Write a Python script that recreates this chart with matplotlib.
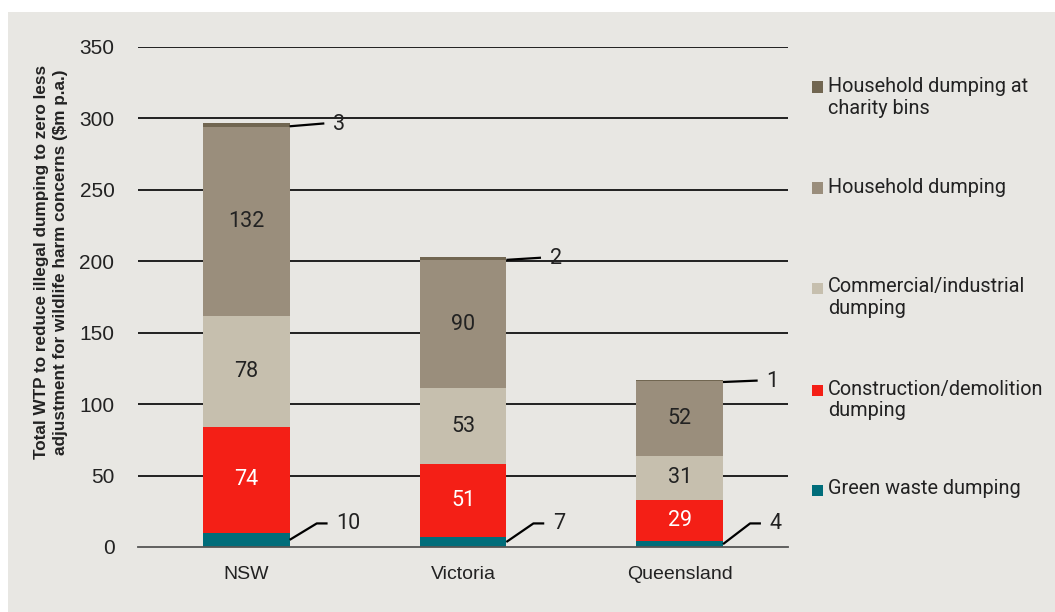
import matplotlib
matplotlib.use("Agg")
import matplotlib.pyplot as plt
from matplotlib.patches import Rectangle
import numpy as np

# Data: WTP by dumping type and state ($m p.a.)
states = ["NSW", "Victoria", "Queensland"]
series_names = [
    "Green waste dumping",
    "Construction/demolition\ndumping",
    "Commercial/industrial\ndumping",
    "Household dumping",
    "Household dumping at\ncharity bins",
]
green_waste = [10, 7, 4]
construction = [74, 51, 29]
commercial = [78, 53, 31]
household = [132, 90, 52]
charity_bins = [3, 2, 1]
y_ticks = [0, 50, 100, 150, 200, 250, 300, 350]

colors = ["#006D7A", "#F41F16", "#C6BFAE", "#9A8E7C", "#716651"]
label_colors = ["#222222", "#FFFFFF", "#222222", "#222222", "#222222"]
panel_bg = "#E8E7E3"

W, H = 1055, 612
fig = plt.figure(figsize=(W / 100, H / 100), dpi=100, facecolor="white")
fig.patches.append(Rectangle((8 / W, 0), 1 - 8 / W, 1 - 12 / H,
                             transform=fig.transFigure, facecolor=panel_bg,
                             edgecolor="none", zorder=-10))

ax = fig.add_axes([138 / W, 1 - 547 / H, 650 / W, 500 / H])
ax.set_facecolor("none")

tick_font = "Liberation Sans"
label_font = "Roboto"

x = np.arange(len(states))
bw = 0.4
series = [green_waste, construction, commercial, household, charity_bins]
bottom = np.zeros(len(states))
for vals, col in zip(series, colors):
    vals = np.array(vals, dtype=float)
    ax.bar(x, vals, bw, bottom=bottom, color=col, zorder=3, linewidth=0)
    bottom = bottom + vals
totals = bottom

# In-bar labels for the three middle segments
bottom = np.zeros(len(states))
for k, (vals, lc) in enumerate(zip(series, label_colors)):
    vals = np.array(vals, dtype=float)
    if k in (1, 2, 3):
        for i, v in enumerate(vals):
            ax.text(x[i], bottom[i] + v / 2, f"{v:.0f}", ha="center", va="center",
                    color=lc, fontsize=15.5, family=label_font, zorder=5)
    bottom = bottom + vals

# Leader-line labels for the thin bottom and top segments
for i in range(len(states)):
    xr = x[i] + bw / 2
    g = green_waste[i]
    ax.plot([xr, xr + 0.125, xr + 0.175], [g / 2, 16.5, 16.5], color="black",
            lw=1.6, zorder=4, solid_capstyle="butt", clip_on=False)
    ax.text(xr + 0.215, 16.5, f"{g}", ha="left", va="center", fontsize=15.5,
            family=label_font, color="#222222")
    c = charity_bins[i]
    t = totals[i]
    ax.plot([xr, xr + 0.16], [t - c / 2 - 1, t - 0.5], color="black", lw=1.6,
            zorder=4, solid_capstyle="butt", clip_on=False)
    ax.text(xr + 0.2, t - 1, f"{c}", ha="left", va="center", fontsize=15.5,
            family=label_font, color="#222222")

ax.set_xlim(-0.5, 2.5)
ax.set_ylim(0, 350)
ax.set_yticks(y_ticks)
ax.set_yticklabels([str(v) for v in y_ticks], family=tick_font, fontsize=15,
                   color="#222222")
ax.set_xticks(x)
ax.set_xticklabels(states, family=tick_font, fontsize=14, color="#222222")
ax.tick_params(axis="y", length=0, pad=17)
ax.tick_params(axis="x", length=0, pad=14)
for v in y_ticks[1:]:
    ax.axhline(v, color="#111111", lw=1.3, zorder=1)
for s in ["top", "right", "left"]:
    ax.spines[s].set_visible(False)
ax.spines["bottom"].set_color("#555555")
ax.spines["bottom"].set_linewidth(1.3)
ax.spines["bottom"].set_zorder(6)

fig.text(51 / W, 1 - 262 / H,
         "Total WTP to reduce illegal dumping to zero less\n"
         "adjustment for wildlife harm concerns ($m p.a.)",
         rotation=90, ha="center", va="center", fontsize=12.3,
         fontweight="bold", family=tick_font, color="#222222",
         linespacing=1.3)

# Legend, top entry first
legend_rows = [87, 188, 288, 390, 490]
for name, col, yc in zip(series_names[::-1], colors[::-1], legend_rows):
    sq = 11
    fig.patches.append(Rectangle((812 / W, 1 - (yc + sq / 2) / H), sq / W, sq / H,
                                 transform=fig.transFigure, facecolor=col,
                                 edgecolor="none"))
    fig.text(828 / W, 1 - (yc - 10.5) / H, name, ha="left", va="top",
             fontsize=14.3, family=label_font, color="#222222", linespacing=1.2)

fig.savefig("out.png", dpi=100, facecolor="white")
